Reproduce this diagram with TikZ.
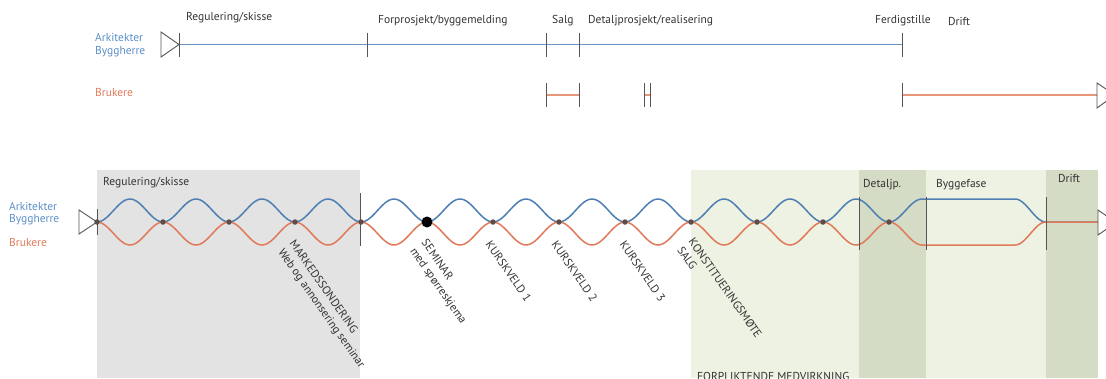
\documentclass[tikz,border=0pt]{standalone}
\usepackage{fontspec}
\usetikzlibrary{calc}
\setmainfont{PT Sans}
\definecolor{archblue}{HTML}{4F7FB3}
\definecolor{archtxt}{HTML}{5B8FC7}
\definecolor{userred}{HTML}{E07A5A}
\definecolor{topblue}{HTML}{6B93BF}
\definecolor{topred}{HTML}{E8957A}
\definecolor{tickgray}{HTML}{555555}
\definecolor{txt}{HTML}{333333}
\definecolor{phasegray}{HTML}{E3E3E3}
\definecolor{phasegreen}{HTML}{EDF2E2}
\definecolor{phasedark}{HTML}{D5DCC6}
\definecolor{dotc}{HTML}{5B4D4A}
\begin{document}
\begin{tikzpicture}[x=1pt,y=-1pt,
  lbl/.style={font=\fontsize{11.5}{13}\selectfont, text=txt, inner sep=0pt, anchor=west},
  rolelbl/.style={font=\fontsize{11.5}{13}\selectfont, inner sep=0pt, anchor=west},
  eventlbl/.style={font=\fontsize{11.5}{14}\selectfont, text=txt, inner sep=0pt,
    anchor=north west, rotate=-55, align=left},
  tickline/.style={draw=tickgray, line width=0.9pt},
  startmark/.style={draw=tickgray, line width=0.9pt, fill=white},
  blueline/.style={draw=archblue, line width=1.5pt},
  redline/.style={draw=userred, line width=1.5pt},
  meet/.style={fill=dotc, circle, inner sep=0pt, minimum size=5.5pt},
  bigmeet/.style={fill=black, circle, inner sep=0pt, minimum size=11pt}]
\useasboundingbox (0,0) rectangle (1106,378);
\clip (0,0) rectangle (1106,378);

% ---------- upper timeline ----------
\node[rolelbl, text=archtxt] (tArk) at (95,37) {Arkitekter};
\node[rolelbl, text=archtxt] (tByg) at (95,52) {Byggherre};
\node[rolelbl, text=userred] (tBru) at (95,92) {Brukere};

\node[lbl] (tReg) at (186,18) {Regulering/skisse};
\node[lbl] (tFor) at (378,21) {Forprosjekt/byggemelding};
\node[lbl] (tSalg) at (552,21) {Salg};
\node[lbl] (tDet) at (588,21) {Detaljprosjekt/realisering};
\node[lbl] (tFerd) at (875,21) {Ferdigstille};
\node[lbl] (tDrift) at (948,21) {Drift};

\coordinate (a0) at (179,44.5);
\coordinate (a1) at (367,44.5);
\coordinate (a2) at (546,44.5);
\coordinate (a3) at (579,44.5);
\coordinate (a4) at (902,44.5);
\draw[draw=topblue, line width=1.8pt] (a0) -- (a4);
\draw[startmark] (161,32) -- (161,57) -- (a0) -- cycle;
\foreach \p in {a0,a1,a2,a3,a4}
  \draw[tickline] ($(\p)+(0,-12)$) -- ($(\p)+(0,12)$);

\coordinate (b0) at (546,95);
\coordinate (b1) at (579,95);
\coordinate (b2) at (644,95);
\coordinate (b3) at (650,95);
\coordinate (b4) at (902,95);
\coordinate (b5) at (1097,95);
\draw[draw=topred, line width=1.8pt] (b0) -- (b1);
\draw[draw=topred, line width=1.8pt] (b2) -- (b3);
\draw[draw=topred, line width=1.8pt] (b4) -- (b5);
\foreach \p in {b0,b1,b2,b3,b4}
  \draw[tickline] ($(\p)+(0,-12)$) -- ($(\p)+(0,12)$);
\draw[startmark] (1097,83) -- (1097,108) -- (1115,95) -- cycle;

% ---------- lower timeline: phase bands ----------
\fill[phasegray] (97,170) rectangle (360,378);
\fill[phasegreen] (691,170) rectangle (1098,378);
\fill[phasedark] (859,170) rectangle (926,378);
\fill[phasedark] (1046,170) rectangle (1098,378);

\node[lbl] (pReg) at (103,183) {Regulering/skisse};
\node[lbl] (pDet) at (863,185) {Detaljp.};
\node[lbl] (pBygg) at (936,185) {Byggefase};
\node[lbl] (pDrift) at (1058,178) {Drift};
\node[font=\fontsize{11.5}{13}\selectfont, text=txt, inner sep=0pt, anchor=base west]
  (pForp) at (697,380) {FORPLIKTENDE MEDVIRKNING};

\node[rolelbl, text=archtxt] (lArk) at (9,206) {Arkitekter};
\node[rolelbl, text=archtxt] (lByg) at (9,220) {Byggherre};
\node[rolelbl, text=userred] (lBru) at (9,242) {Brukere};

% ---------- interwoven lines (period 66) ----------
\draw[blueline] plot[domain=97:922, samples=320] (\x,{222-11.5*(1-cos(5.454545*(\x-97)))})
  -- (1015,199)
  -- plot[domain=1015:1046, samples=30] (\x,{222-11.5*(1+cos(5.806452*(\x-1015)))})
  -- (1098,222);
\draw[redline] plot[domain=97:922, samples=320] (\x,{222+11.5*(1-cos(5.454545*(\x-97)))})
  -- (1015,245)
  -- plot[domain=1015:1046, samples=30] (\x,{222+11.5*(1+cos(5.806452*(\x-1015)))})
  -- (1098,222);

% phase separators
\draw[tickline] (97,209) -- (97,235);
\draw[tickline] (360,193) -- (360,246);
\draw[tickline] (859,197) -- (859,250);
\draw[tickline] (926,197) -- (926,250);
\draw[tickline] (1046,197) -- (1046,250);

\draw[startmark] (79,210) -- (79,234) -- (97,222) -- cycle;
\draw[startmark] (1098,210) -- (1098,235) -- (1116,222.5) -- cycle;

% meeting points
\foreach \k in {0,1,2,3,4,6,7,8,9,10,11,12}
  \node[meet] (m\k) at ({97+66*\k},222) {};
\node[bigmeet] (m5) at (427,222) {};

% ---------- events ----------
\node[eventlbl] (eMark) at (296,239) {MARKEDSSONDERING\\Web og annonsering seminar};
\node[eventlbl] (eSem) at (428,238) {SEMINAR\\med spørreskjema};
\node[eventlbl] (eK1) at (492,240) {KURSKVELD 1};
\node[eventlbl] (eK2) at (558,240) {KURSKVELD 2};
\node[eventlbl] (eK3) at (626,240) {KURSKVELD 3};
\node[eventlbl] (eKon) at (695,237) {KONSTITUERINGSMØTE\\SALG};
\end{tikzpicture}
\end{document}
